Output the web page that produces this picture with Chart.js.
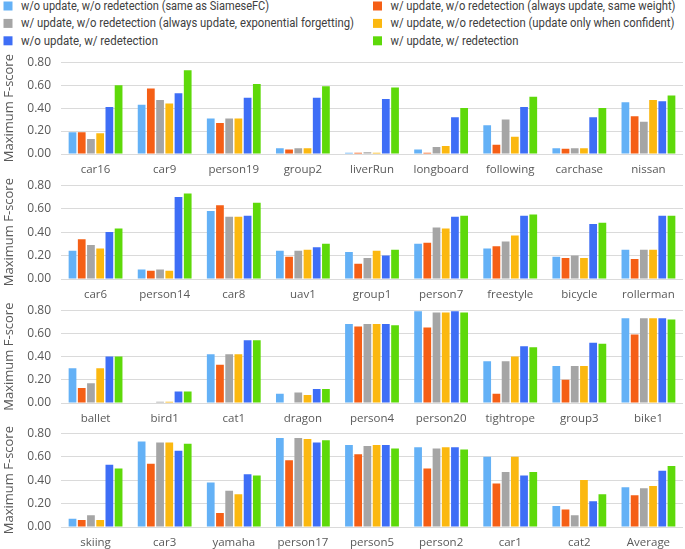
<!DOCTYPE html>
<html><head><meta charset="utf-8">
<script src="https://cdn.jsdelivr.net/npm/chart.js@4/dist/chart.umd.min.js"></script>
<style>
html,body{margin:0;padding:0;background:#fff;}
#wrap{position:relative;width:685px;height:549px;overflow:hidden;background:#fff;}
#legend{position:absolute;left:0;top:0;}
canvas{position:absolute;left:0;}
</style></head><body><div id="wrap"><svg id="legend" width="685" height="52" xmlns="http://www.w3.org/2000/svg"></svg></div>
<script>
const categories = ['car16','car9','person19','group2','liverRun','longboard','following','carchase','nissan',
  'car6','person14','car8','uav1','group1','person7','freestyle','bicycle','rollerman',
  'ballet','bird1','cat1','dragon','person4','person20','tightrope','group3','bike1',
  'skiing','car3','yamaha','person17','person5','person2','car1','cat2','Average'];

const seriesNames = [
  'w/o update, w/o redetection (same as SiameseFC)',
  'w/ update, w/o redetection (always update, same weight)',
  'w/ update, w/o redetection (always update, exponential forgetting)',
  'w/ update, w/o redetection (update only when confident)',
  'w/o update, w/ redetection',
  'w/ update, w/ redetection'
];

const noUpdateNoRedet = [0.19,0.43,0.31,0.05,0.01,0.04,0.25,0.05,0.45,
  0.24,0.08,0.58,0.24,0.23,0.30,0.26,0.19,0.25,
  0.30,0.00,0.42,0.08,0.68,0.79,0.36,0.32,0.73,
  0.07,0.73,0.38,0.76,0.70,0.68,0.60,0.18,0.34];
const updateSameWeight = [0.19,0.57,0.27,0.04,0.01,0.01,0.08,0.045,0.33,
  0.34,0.07,0.63,0.19,0.13,0.31,0.28,0.18,0.17,
  0.13,0.00,0.33,0.00,0.66,0.65,0.08,0.20,0.59,
  0.06,0.54,0.12,0.57,0.62,0.50,0.37,0.15,0.27];
const updateExpForget = [0.13,0.47,0.31,0.05,0.015,0.06,0.30,0.05,0.28,
  0.29,0.08,0.53,0.24,0.18,0.44,0.32,0.20,0.25,
  0.17,0.01,0.42,0.09,0.68,0.78,0.36,0.32,0.73,
  0.10,0.72,0.31,0.76,0.69,0.67,0.47,0.10,0.33];
const updateConfident = [0.18,0.44,0.31,0.05,0.01,0.07,0.15,0.05,0.47,
  0.26,0.07,0.53,0.25,0.24,0.43,0.37,0.18,0.25,
  0.30,0.01,0.42,0.07,0.68,0.78,0.40,0.32,0.73,
  0.06,0.72,0.28,0.75,0.70,0.68,0.60,0.40,0.35];
const noUpdateRedet = [0.41,0.53,0.49,0.49,0.48,0.32,0.41,0.32,0.46,
  0.40,0.70,0.54,0.27,0.20,0.53,0.54,0.47,0.54,
  0.40,0.10,0.54,0.12,0.68,0.79,0.49,0.52,0.73,
  0.53,0.65,0.45,0.72,0.70,0.68,0.44,0.22,0.48];
const updateRedet = [0.60,0.73,0.61,0.59,0.58,0.40,0.50,0.40,0.51,
  0.43,0.73,0.65,0.30,0.25,0.54,0.55,0.48,0.54,
  0.40,0.10,0.54,0.12,0.67,0.78,0.48,0.51,0.72,
  0.50,0.71,0.44,0.74,0.67,0.66,0.47,0.28,0.52];

const yTicks = [0,0.1,0.2,0.3,0.4,0.5,0.6,0.7,0.8];

const allSeries = [noUpdateNoRedet, updateSameWeight, updateExpForget, updateConfident, noUpdateRedet, updateRedet];
const colors = ['#64B1F6','#F55F16','#A5A5A5','#FBB810','#3E6EF6','#5ED90A'];

const wrap = document.getElementById('wrap');

// legend (SVG, text fitted with textLength)
const NS = 'http://www.w3.org/2000/svg';
const svg = document.getElementById('legend');
const legendPos = [[3.5,0],[373,0],[3.5,1],[373,1],[3.5,2],[373,2]];
const legendTextWidth = [248,285,333,284,137,128];
seriesNames.forEach((n,i)=>{
  const [x,row] = legendPos[i];
  const cy = 6 + row*17.4;
  const r = document.createElementNS(NS,'rect');
  r.setAttribute('x',x); r.setAttribute('y',cy-4.5); r.setAttribute('width',9); r.setAttribute('height',9);
  r.setAttribute('fill',colors[i]);
  svg.appendChild(r);
  const t = document.createElementNS(NS,'text');
  t.setAttribute('x',x+17.5); t.setAttribute('y',cy+4);
  t.setAttribute('font-family','Roboto, sans-serif'); t.setAttribute('font-size','12.5');
  t.setAttribute('fill','#404040');
  t.setAttribute('textLength',legendTextWidth[i]); t.setAttribute('lengthAdjust','spacingAndGlyphs');
  t.textContent = n;
  svg.appendChild(t);
});

const areaTops = [62.3,185.3,309.7,432.7];
const areaBottoms = [154.3,278.7,402.3,526];
const xH = 28;
for (let p=0;p<4;p++){
  const cv = document.createElement('canvas');
  const aH = areaBottoms[p]-areaTops[p];
  let H = Math.round(17+aH+xH);
  cv.width=685; cv.height=H;
  cv.style.width='685px'; cv.style.height=H+'px';
  wrap.appendChild(cv);
  const labels = categories.slice(p*9,p*9+9);
  const chart = new Chart(cv.getContext('2d'),{
    type:'bar',
    data:{labels, datasets: allSeries.map((s,i)=>({
      label: seriesNames[i], data: s.slice(p*9,p*9+9), backgroundColor: colors[i],
      borderWidth:0, categoryPercentage:0.8, barPercentage:0.84
    }))},
    options:{
      responsive:false, maintainAspectRatio:false, animation:false, devicePixelRatio:1,
      layout:{padding:{top:0,right:2,left:0,bottom:0}},
      plugins:{legend:{display:false},tooltip:{enabled:false}},
      scales:{
        x:{
          grid:{display:false,drawTicks:false}, border:{display:false},
          ticks:{padding:9,color:'#595959',font:{family:'Open Sans',size:11.5},maxRotation:0,autoSkip:false},
          afterFit:(s)=>{s.height=xH;}
        },
        y:{
          min:0,max:0.8,
          afterBuildTicks:(s)=>{s.ticks=yTicks.map(v=>({value:v}));},
          grid:{color:'#DADADA',lineWidth:1,drawTicks:false}, border:{display:false},
          ticks:{padding:10,color:'#595959',font:{family:'Open Sans',size:12},callback:(v)=>Number(v).toFixed(2)},
          title:{display:true,text:'Maximum F-score',color:'#595959',font:{family:'Open Sans',size:13},padding:{top:1,bottom:0}},
          afterFit:(s)=>{s.width=61;}
        }
      }
    }
  });
  const t0 = chart.chartArea.top;
  const H2 = Math.round(t0+aH+xH);
  if (H2!==H){
    chart.resize(685,H2);
    cv.style.width='685px'; cv.style.height=H2+'px';
  }
  cv.style.top=(areaTops[p]-chart.chartArea.top)+'px';
}
</script></body></html>
